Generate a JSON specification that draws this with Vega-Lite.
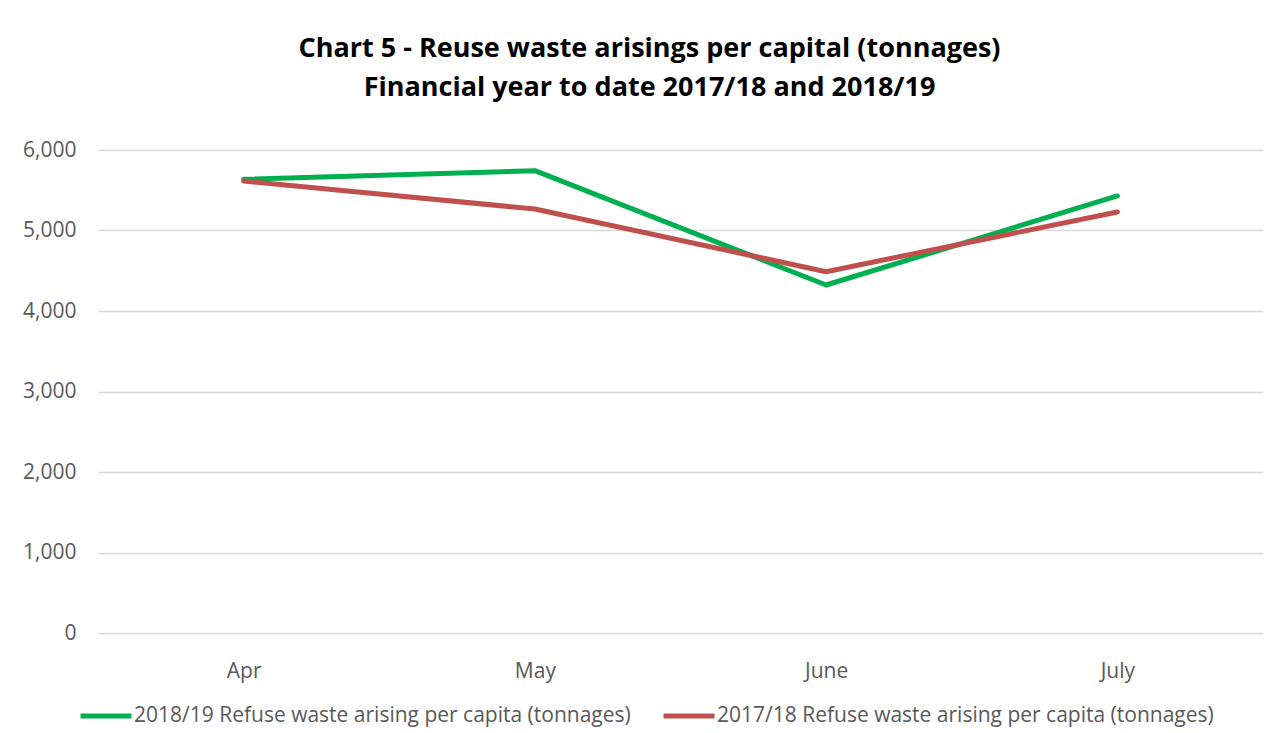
{
  "$schema": "https://vega.github.io/schema/vega-lite/v6.json",
  "width": 1165,
  "height": 483,
  "autosize": {"type": "none"},
  "padding": {"left": 98, "top": 150, "right": 19, "bottom": 100},
  "background": "white",
  "title": {
    "text": ["Chart 5 - Reuse waste arisings per capital (tonnages)", "Financial year to date 2017/18 and 2018/19"],
    "font": "Open Sans",
    "fontSize": 27,
    "fontWeight": "bold",
    "color": "#000000",
    "anchor": "middle",
    "frame": "group",
    "dx": -31,
    "offset": 37,
    "lineHeight": 39
  },
  "data": {
    "values": [
      {"month": "Apr", "series": "2018/19 Refuse waste arising per capita (tonnages)", "value": 5636},
      {"month": "May", "series": "2018/19 Refuse waste arising per capita (tonnages)", "value": 5743},
      {"month": "June", "series": "2018/19 Refuse waste arising per capita (tonnages)", "value": 4323},
      {"month": "July", "series": "2018/19 Refuse waste arising per capita (tonnages)", "value": 5429},
      {"month": "Apr", "series": "2017/18 Refuse waste arising per capita (tonnages)", "value": 5615},
      {"month": "May", "series": "2017/18 Refuse waste arising per capita (tonnages)", "value": 5267},
      {"month": "June", "series": "2017/18 Refuse waste arising per capita (tonnages)", "value": 4488},
      {"month": "July", "series": "2017/18 Refuse waste arising per capita (tonnages)", "value": 5230}
    ]
  },
  "mark": {"type": "line", "strokeWidth": 5, "strokeCap": "round", "strokeJoin": "round"},
  "encoding": {
    "x": {
      "field": "month",
      "type": "ordinal",
      "sort": ["Apr", "May", "June", "July"],
      "scale": {"type": "point", "padding": 0.5},
      "axis": {
        "title": null,
        "domain": false,
        "ticks": false,
        "grid": false,
        "labelAngle": 0,
        "labelFont": "Open Sans",
        "labelFontSize": 21,
        "labelColor": "#595959",
        "labelPadding": 27
      }
    },
    "y": {
      "field": "value",
      "type": "quantitative",
      "scale": {"domain": [0, 6000], "nice": false},
      "axis": {
        "title": null,
        "domain": false,
        "ticks": false,
        "values": [0, 1000, 2000, 3000, 4000, 5000, 6000],
        "format": ",.0f",
        "gridColor": "#D9D9D9",
        "gridWidth": 1.5,
        "labelFont": "Open Sans",
        "labelFontSize": 21,
        "labelColor": "#595959",
        "labelPadding": 22
      }
    },
    "color": {
      "field": "series",
      "type": "nominal",
      "sort": ["2018/19 Refuse waste arising per capita (tonnages)", "2017/18 Refuse waste arising per capita (tonnages)"],
      "scale": {
        "domain": ["2018/19 Refuse waste arising per capita (tonnages)", "2017/18 Refuse waste arising per capita (tonnages)"],
        "range": ["#00B050", "#C0504D"]
      },
      "legend": {
        "title": null,
        "orient": "none",
        "direction": "horizontal",
        "legendX": -20,
        "legendY": 538,
        "symbolType": "stroke",
        "symbolSize": 2600,
        "symbolStrokeWidth": 5,
        "labelFont": "Open Sans",
        "labelFontSize": 21,
        "labelColor": "#595959",
        "labelOffset": 0,
        "columnPadding": 22,
        "labelLimit": 0
      }
    }
  },
  "config": {"view": {"stroke": null}}
}
